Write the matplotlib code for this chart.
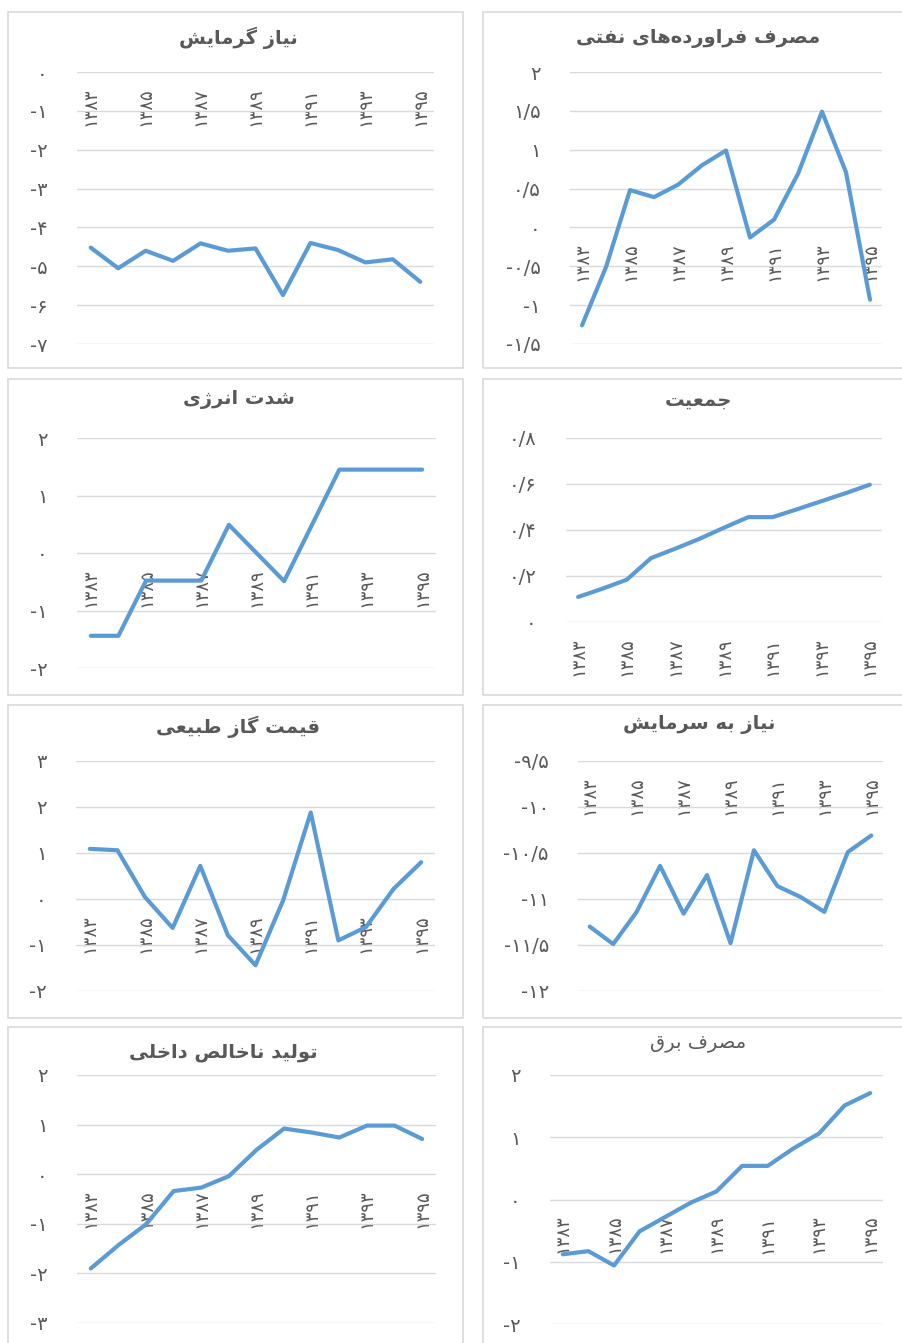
import matplotlib
matplotlib.use("Agg")
import matplotlib.pyplot as plt
from matplotlib.patches import Rectangle
from matplotlib.ticker import FixedLocator, FuncFormatter

plt.rcParams['font.family'] = ['DejaVu Sans']

# ---- data ----
years = [1383, 1384, 1385, 1386, 1387, 1388, 1389, 1390, 1391, 1392, 1393, 1394, 1395]

heating_demand = [-4.52, -5.05, -4.60, -4.86, -4.41, -4.60, -4.54, -5.74, -4.40, -4.58, -4.90, -4.82, -5.40]
oil_products = [-1.26, -0.51, 0.48, 0.39, 0.55, 0.80, 0.99, -0.13, 0.10, 0.69, 1.49, 0.71, -0.93]
energy_intensity = [-1.44, -1.44, -0.48, -0.48, -0.48, 0.49, 0.0, -0.49, 0.48, 1.45, 1.45, 1.45, 1.45]
population = [0.109, 0.145, 0.184, 0.278, 0.319, 0.362, 0.410, 0.456, 0.456, 0.49, 0.525, 0.56, 0.597]
gas_price = [1.09, 1.06, 0.04, -0.63, 0.72, -0.79, -1.44, -0.03, 1.88, -0.90, -0.61, 0.22, 0.80]
cooling_demand = [-11.30, -11.49, -11.14, -10.64, -11.16, -10.74, -11.48, -10.47, -10.86, -10.98, -11.14, -10.49, -10.31]
gdp = [-1.90, -1.43, -1.01, -0.34, -0.27, -0.04, 0.49, 0.92, 0.84, 0.74, 0.98, 0.98, 0.71]
electricity = [-0.88, -0.83, -1.06, -0.51, -0.28, -0.05, 0.13, 0.54, 0.54, 0.82, 1.06, 1.51, 1.71]

titles = ["نیاز گرمایش", "مصرف فراورده‌های نفتی", "شدت انرژی", "جمعیت",
          "قیمت گاز طبیعی", "نیاز به سرمایش", "تولید ناخالص داخلی", "مصرف برق"]
series = [heating_demand, oil_products, energy_intensity, population,
          gas_price, cooling_demand, gdp, electricity]
yticks = [[0, -1, -2, -3, -4, -5, -6, -7],
          [2, 1.5, 1, 0.5, 0, -0.5, -1, -1.5],
          [2, 1, 0, -1, -2],
          [0.8, 0.6, 0.4, 0.2, 0],
          [3, 2, 1, 0, -1, -2],
          [-9.5, -10, -10.5, -11, -11.5, -12],
          [2, 1, 0, -1, -2, -3],
          [2, 1, 0, -1, -2]]
# where the category axis crosses the value axis
axis_cross = [0, 0, 0, 0, 0, -9.5, 0, 0]

# ---- layout (pixels, from top-left) ----
W, H = 902, 1343
plot_boxes = [(77, 72, 434, 344), (570, 72, 882, 344),
              (77, 438, 436, 668), (566, 438, 882, 622),
              (76, 761, 435, 991), (578, 761, 883, 991),
              (77, 1075, 436, 1323), (550, 1075, 883, 1324)]
panel_boxes = [(8, 12, 463, 368), (483, 12, 910, 368),
               (8, 379, 463, 695), (483, 379, 910, 695),
               (8, 705, 463, 1018), (483, 705, 910, 1018),
               (8, 1027, 463, 1360), (483, 1027, 910, 1360)]
title_pos = [(238, 38), (698, 38), (239, 400), (698, 400),
             (238, 727), (699, 725), (223, 1052), (698, 1043)]
title_bold = [True, True, True, True, True, True, True, False]

BLUE = '#5b9bd5'
GRID = '#d9d9d9'
TXT = '#595959'

# minimal Persian shaping: (isolated, final, initial, medial)
FORMS = {
    'ا': ('\ufe8d', '\ufe8e'), 'د': ('\ufea9', '\ufeaa'), 'ر': ('\ufead', '\ufeae'),
    'ز': ('\ufeaf', '\ufeb0'), 'ژ': ('\ufb8a', '\ufb8b'), 'و': ('\ufeed', '\ufeee'),
    'ب': ('\ufe8f', '\ufe90', '\ufe91', '\ufe92'), 'ت': ('\ufe95', '\ufe96', '\ufe97', '\ufe98'),
    'ج': ('\ufe9d', '\ufe9e', '\ufe9f', '\ufea0'), 'خ': ('\ufea5', '\ufea6', '\ufea7', '\ufea8'),
    'س': ('\ufeb1', '\ufeb2', '\ufeb3', '\ufeb4'), 'ش': ('\ufeb5', '\ufeb6', '\ufeb7', '\ufeb8'),
    'ص': ('\ufeb9', '\ufeba', '\ufebb', '\ufebc'), 'ط': ('\ufec1', '\ufec2', '\ufec3', '\ufec4'),
    'ع': ('\ufec9', '\ufeca', '\ufecb', '\ufecc'), 'ف': ('\ufed1', '\ufed2', '\ufed3', '\ufed4'),
    'ق': ('\ufed5', '\ufed6', '\ufed7', '\ufed8'), 'ل': ('\ufedd', '\ufede', '\ufedf', '\ufee0'),
    'م': ('\ufee1', '\ufee2', '\ufee3', '\ufee4'), 'ن': ('\ufee5', '\ufee6', '\ufee7', '\ufee8'),
    'ه': ('\ufee9', '\ufeea', '\ufeeb', '\ufeec'), 'ی': ('\ufbfc', '\ufbfd', '\ufbfe', '\ufbff'),
    'گ': ('\ufb92', '\ufb93', '\ufb94', '\ufb95'),
}


def shape(text):
    out = []
    for i, c in enumerate(text):
        if c not in FORMS:
            if c != '\u200c':
                out.append(c)
            continue
        prev = text[i - 1] if i > 0 else ''
        nxt = text[i + 1] if i + 1 < len(text) else ''
        join_prev = prev in FORMS and len(FORMS[prev]) == 4
        join_next = len(FORMS[c]) == 4 and nxt in FORMS
        f = FORMS[c]
        if join_prev and join_next:
            out.append(f[3])
        elif join_prev:
            out.append(f[1])
        elif join_next:
            out.append(f[2])
        else:
            out.append(f[0])
    return ''.join(reversed(out))


def fa(s):
    return str(s).translate(str.maketrans('0123456789.', '۰۱۲۳۴۵۶۷۸۹/'))


def fa_num(v, pos=None):
    return fa('%g' % v)


fig = plt.figure(figsize=(W / 100, H / 100), dpi=100)

for (x0, y0, x1, y1) in panel_boxes:
    fig.patches.append(Rectangle((x0 / W, 1 - y1 / H), (x1 - x0) / W, (y1 - y0) / H,
                                 transform=fig.transFigure, fill=False,
                                 edgecolor=GRID, lw=1.2))

x = list(range(len(years)))
for k in range(8):
    x0, y0, x1, y1 = plot_boxes[k]
    ax = fig.add_axes([x0 / W, 1 - y1 / H, (x1 - x0) / W, (y1 - y0) / H])
    # move the category axis first: set_position resets the ticks
    for side in ['top', 'right', 'left']:
        ax.spines[side].set_visible(False)
    ax.spines['bottom'].set_position(('data', axis_cross[k]))
    ax.spines['bottom'].set_color('none')

    ax.plot(x, series[k], color=BLUE, lw=3, solid_joinstyle='round', solid_capstyle='round',
            zorder=3, clip_on=False)
    ax.set_xlim(-0.5, len(years) - 0.5)
    ax.set_ylim(min(yticks[k]), max(yticks[k]))
    ax.yaxis.set_major_locator(FixedLocator(yticks[k]))
    ax.yaxis.set_major_formatter(FuncFormatter(fa_num))
    ax.grid(axis='y', color=GRID, lw=1)
    ax.set_xticks(x[::2])
    ax.set_xticklabels([fa(y) for y in years[::2]])
    ax.tick_params(axis='y', length=0, pad=21, labelsize=14, labelcolor=TXT)
    ax.tick_params(axis='x', length=0, pad=11, labelsize=13, labelcolor=TXT,
                   labelrotation=90)
    for lab in ax.get_xticklabels():
        lab.set_va('top')
    ax.set_facecolor('none')

    tx, ty = title_pos[k]
    fig.text(tx / W, 1 - ty / H, shape(titles[k]), ha='center', va='center',
             fontsize=14, color=TXT, fontweight='bold' if title_bold[k] else 'normal')

fig.savefig('out.png', dpi=100, facecolor='white')
